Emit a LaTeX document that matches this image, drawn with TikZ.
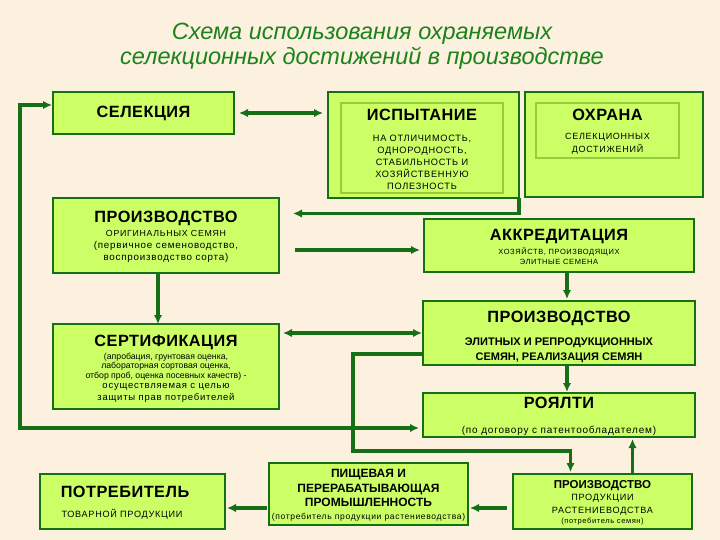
\documentclass[tikz,border=0pt]{standalone}
\usepackage{fontspec}
\setmainfont{Liberation Sans}
\newfontfamily\wide[LetterSpace=8]{Liberation Sans}
\newfontfamily\headfont[LetterSpace=3]{Liberation Sans}
\usepackage{tikz}
\usetikzlibrary{arrows.meta,calc}
\definecolor{paper}{RGB}{252,241,222}
\definecolor{leaf}{RGB}{204,255,102}
\definecolor{edge}{RGB}{22,110,22}
\definecolor{rimgreen}{RGB}{150,205,60}
\definecolor{headline}{RGB}{28,130,28}

\begin{document}
\begin{tikzpicture}[x=1pt,y=-1pt,
  box/.style={draw=edge,fill=leaf,line width=2.5pt,anchor=north west,inner sep=0pt,outer sep=0pt},
  rim/.style={draw=rimgreen,line width=1.2pt,anchor=north west,inner sep=0pt,outer sep=0pt},
  head/.style={font=\fontsize{16.3}{18}\selectfont\headfont\bfseries,inner sep=0pt},
  small/.style={font=\fontsize{9.2}{12}\selectfont\wide,align=center,inner sep=0pt},
  link/.style={draw=edge,line width=3.2pt,>={Latex[length=9pt,width=8.5pt]}}]
\fill[paper] (0,0) rectangle (720,540);
\node[font=\fontsize{23.5}{24.5}\selectfont\itshape,text=headline,align=center] (title) at (362,46)
  {Схема использования охраняемых\\селекционных достижений в производстве};
% boxes
\node[box,minimum width=181pt,minimum height=42pt] (sel) at (53,92) {};
\node[box,minimum width=191pt,minimum height=106pt] (isp) at (328,92) {};
\node[rim,minimum width=162pt,minimum height=90pt] (ispIn) at (341,103) {};
\node[box,minimum width=178pt,minimum height=105pt] (ohr) at (525,92) {};
\node[rim,minimum width=143pt,minimum height=55pt] (ohrIn) at (536,103) {};
\node[box,minimum width=226pt,minimum height=75pt] (porig) at (53,198) {};
\node[box,minimum width=270pt,minimum height=53pt] (akk) at (424,219) {};
\node[box,minimum width=272pt,minimum height=64pt] (pelit) at (423,301) {};
\node[box,minimum width=272pt,minimum height=44pt] (roy) at (423,393) {};
\node[box,minimum width=226pt,minimum height=85pt] (sert) at (53,324) {};
\node[box,minimum width=185pt,minimum height=55pt] (potr) at (40,474) {};
\node[box,minimum width=199pt,minimum height=62pt] (pish) at (269,463) {};
\node[box,minimum width=179pt,minimum height=55pt] (pprod) at (513,474) {};
% texts
\node[head] (selT) at (143.5,113) {СЕЛЕКЦИЯ};
\node[head] (ispT) at (422,115) {ИСПЫТАНИЕ};
\node[small] (ispB) at (422,162) {НА ОТЛИЧИМОСТЬ,\\ОДНОРОДНОСТЬ,\\СТАБИЛЬНОСТЬ И\\ХОЗЯЙСТВЕННУЮ\\ПОЛЕЗНОСТЬ};
\node[head] (ohrT) at (607.5,115) {ОХРАНА};
\node[small,font=\fontsize{9}{13.5}\selectfont\wide] (ohrB) at (607.5,144) {СЕЛЕКЦИОННЫХ\\ДОСТИЖЕНИЙ};
\node[head] (porigT) at (166,218) {ПРОИЗВОДСТВО};
\node[small,font=\fontsize{8.8}{12}\selectfont\wide] (porigB) at (166,246)
  {ОРИГИНАЛЬНЫХ СЕМЯН\\\fontsize{9.8}{12}\selectfont(первичное семеноводство,\\\fontsize{9.8}{12}\selectfont воспроизводство сорта)};
\node[head] (akkT) at (559,237) {АККРЕДИТАЦИЯ};
\node[small,font=\fontsize{7.5}{10}\selectfont\wide] (akkB) at (559,256) {ХОЗЯЙСТВ, ПРОИЗВОДЯЩИХ\\ЭЛИТНЫЕ СЕМЕНА};
\node[head] (pelitT) at (559,318) {ПРОИЗВОДСТВО};
\node[small,font=\fontsize{11}{15}\selectfont\bfseries] (pelitB) at (559,350.5) {ЭЛИТНЫХ И РЕПРОДУКЦИОННЫХ\\СЕМЯН, РЕАЛИЗАЦИЯ СЕМЯН};
\node[head] (royT) at (559,403) {РОЯЛТИ};
\node[small,font=\fontsize{10}{12}\selectfont\wide] (royB) at (559,431) {(по договору с патентообладателем)};
\node[head] (sertT) at (166,342) {СЕРТИФИКАЦИЯ};
\node[small,font=\fontsize{8.7}{9.7}\selectfont] (sertB) at (166,366.5) {(апробация, грунтовая оценка,\\лабораторная сортовая оценка,\\отбор проб, оценка посевных качеств) -};
\node[small,font=\fontsize{9.5}{12}\selectfont\wide] (sertC) at (166,393) {осуществляемая с целью\\защиты прав потребителей};
\node[head] (potrT) at (125,492) {ПОТРЕБИТЕЛЬ};
\node[small,font=\fontsize{9.1}{12}\selectfont\wide] (potrB) at (122,514) {ТОВАРНОЙ ПРОДУКЦИИ};
\node[small,font=\fontsize{12}{14.5}\selectfont\bfseries] (pishT) at (368.5,488) {ПИЩЕВАЯ И\\ПЕРЕРАБАТЫВАЮЩАЯ\\ПРОМЫШЛЕННОСТЬ};
\node[small,font=\fontsize{8.5}{10}\selectfont\wide] (pishB) at (368.5,517) {(потребитель продукции растениеводства)};
\node[small,font=\fontsize{11.5}{13}\selectfont\bfseries] (pprodT) at (602.5,486) {ПРОИЗВОДСТВО};
\node[small,font=\fontsize{9.1}{13}\selectfont\wide] (pprodB) at (602.5,504.5) {ПРОДУКЦИИ\\РАСТЕНИЕВОДСТВА};
\node[small,font=\fontsize{7.5}{9}\selectfont\wide] (pprodC) at (602.5,522) {(потребитель семян)};
% connectors
\draw[link,<->] ([xshift=5pt]sel.east) -- ([xshift=-5pt]isp.west |- sel.east);
\draw[link,<->] ([shift={(-4pt,9pt)}]roy.south west) -| ([xshift=-33pt,yshift=8pt]sel.west) -- ([xshift=-1pt,yshift=8pt]sel.west);
\draw[link,->] (isp.south east) |- ([shift={(14pt,22pt)}]porig.east);
\draw[link,->] ([shift={(16pt,-4.5pt)}]porig.east |- akk.west) -- ([shift={(-4pt,-4.5pt)}]akk.west);
\draw[link,->] ([xshift=-8pt]porig.south) -- ([xshift=-8pt]sert.north);
\draw[link,->] ([xshift=8pt]akk.south) -- ([xshift=8pt,yshift=2pt]pelit.north);
\draw[link,<->] ([xshift=4pt]pelit.west -| sert.east) -- ([xshift=-1pt]pelit.west);
\coordinate (turn) at (353,451);
\draw[link,->] ([yshift=-21pt]pelit.west) -| (turn) -| ([xshift=-32pt,yshift=2pt]pprod.north);
\draw[link,->] ([xshift=8pt]pelit.south) -- ([xshift=8pt,yshift=1pt]roy.north);
\draw[link,->] ([xshift=30pt]pprod.north) -- ([xshift=30pt,yshift=-2pt]pprod.north |- roy.south);
\draw[link,->,shorten <=6pt] ([yshift=-6.5pt]pprod.west) -- ([shift={(2pt,-6.5pt)}]pprod.west -| pish.east);
\draw[link,->,shorten <=2pt] ([yshift=-6.5pt]pish.west |- potr.west) -- ([shift={(2pt,-6.5pt)}]potr.east);
\end{tikzpicture}
\end{document}
